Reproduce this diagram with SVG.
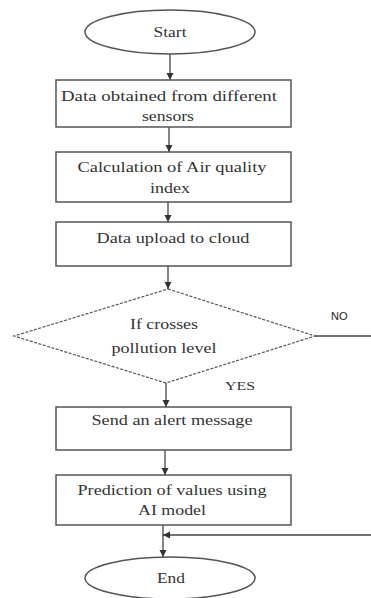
<svg xmlns="http://www.w3.org/2000/svg" width="371" height="598" viewBox="0 0 371 598">
<style>
.n{fill:#fff;stroke:#555;stroke-width:1.5}
.d{fill:#fff;stroke:#555;stroke-width:1.2;stroke-dasharray:3 1.5}
.t{font-family:"Liberation Serif","Times New Roman",serif;font-size:15px;fill:#333;text-anchor:middle}
.c{stroke:#444;stroke-width:1.3;fill:none}
.s{font-family:"Liberation Sans",Arial,sans-serif;font-size:11px;fill:#222}
</style>
<defs>
<marker id="a" markerWidth="8" markerHeight="8" refX="7" refY="4" orient="auto" markerUnits="userSpaceOnUse">
<path d="M0,0.5 L7,4 L0,7.5 Z" fill="#333"/>
</marker>
</defs>
<rect width="371" height="598" fill="#fff"/>
<g id="connectors">
<line class="c" x1="170" y1="54" x2="170" y2="80" marker-end="url(#a)"/>
<line class="c" x1="169" y1="127" x2="169" y2="152" marker-end="url(#a)"/>
<line class="c" x1="168" y1="202" x2="168" y2="222" marker-end="url(#a)"/>
<line class="c" x1="168" y1="266" x2="168" y2="289" marker-end="url(#a)"/>
<line class="c" x1="315" y1="336" x2="371" y2="336"/>
<line class="c" x1="166" y1="383" x2="166" y2="407" marker-end="url(#a)"/>
<line class="c" x1="165" y1="450" x2="165" y2="475" marker-end="url(#a)"/>
<line class="c" x1="163" y1="525" x2="163" y2="557" marker-end="url(#a)"/>
<line class="c" x1="371" y1="535" x2="163" y2="535" marker-end="url(#a)"/>
<text class="s" x="331" y="320">NO</text>
<text class="t" x="240" y="390" style="font-size:13px" textLength="30" lengthAdjust="spacingAndGlyphs">YES</text>
</g>
<g id="start">
<ellipse class="n" cx="170" cy="32" rx="85" ry="22"/>
<text class="t" x="170" y="37" textLength="33" lengthAdjust="spacingAndGlyphs">Start</text>
</g>
<g id="data">
<rect class="n" x="56" y="80" width="235" height="47"/>
<text class="t" x="169" y="101" textLength="216" lengthAdjust="spacingAndGlyphs">Data obtained from different</text>
<text class="t" x="168" y="121" textLength="52" lengthAdjust="spacingAndGlyphs">sensors</text>
</g>
<g id="calc">
<rect class="n" x="56" y="152" width="235" height="50"/>
<text class="t" x="172" y="172" textLength="189" lengthAdjust="spacingAndGlyphs">Calculation of Air quality</text>
<text class="t" x="170" y="193" textLength="40" lengthAdjust="spacingAndGlyphs">index</text>
</g>
<g id="upload">
<rect class="n" x="56" y="222" width="235" height="44"/>
<text class="t" x="173" y="243" textLength="153" lengthAdjust="spacingAndGlyphs">Data upload to cloud</text>
</g>
<g id="decision">
<polygon class="d" points="168,289 315,336 166,383 14,336"/>
<text class="t" x="164" y="329" textLength="68" lengthAdjust="spacingAndGlyphs">If crosses</text>
<text class="t" x="164" y="353" textLength="105" lengthAdjust="spacingAndGlyphs">pollution level</text>
</g>
<g id="alert">
<rect class="n" x="56" y="407" width="235" height="43"/>
<text class="t" x="172" y="425" textLength="161" lengthAdjust="spacingAndGlyphs">Send an alert message</text>
</g>
<g id="predict">
<rect class="n" x="56" y="475" width="235" height="50"/>
<text class="t" x="172" y="495" textLength="189" lengthAdjust="spacingAndGlyphs">Prediction of values using</text>
<text class="t" x="172" y="515" textLength="68" lengthAdjust="spacingAndGlyphs">AI model</text>
</g>
<g id="end">
<ellipse class="n" cx="170" cy="578" rx="85" ry="21"/>
<text class="t" x="171" y="583" textLength="28" lengthAdjust="spacingAndGlyphs">End</text>
</g>
</svg>
